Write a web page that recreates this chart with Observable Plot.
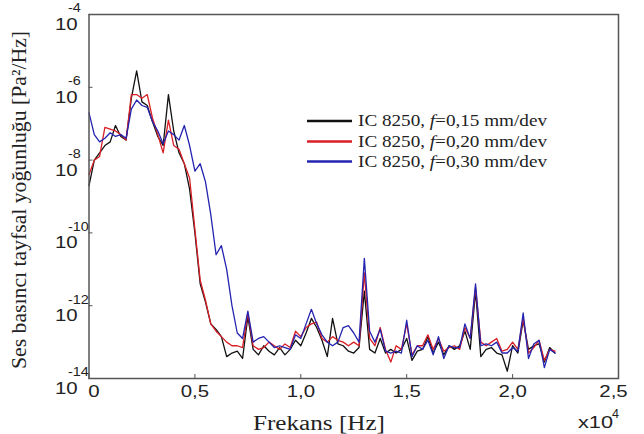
<!DOCTYPE html>
<html><head><meta charset="utf-8">
<script src="https://cdn.jsdelivr.net/npm/d3@7"></script>
<script src="https://cdn.jsdelivr.net/npm/@observablehq/plot@0.6"></script>
<style>body{margin:0;background:#fff}</style>
</head><body><div id="chart"></div>
<script>
// Frequency sampling step (Hz); series values are log10 of PSD [Pa^2/Hz]
const freqStep = 250;
const logBlack = [-8.7,-8.0,-7.8,-7.6,-7.5,-7.05,-7.35,-7.45,-6.3,-5.55,-6.4,-6.5,-6.95,-7.35,-7.6,-6.2,-7.2,-7.8,-8.1,-8.8,-10.0,-11.4,-11.9,-12.5,-12.65,-12.85,-13.4,-13.3,-13.25,-13.45,-12.3,-13.2,-13.35,-13.1,-13.25,-13.35,-13.15,-13.35,-13.2,-12.95,-13.1,-12.75,-12.35,-12.6,-12.95,-13.4,-12.35,-13.05,-13.1,-13.25,-13.3,-13.15,-11.6,-13.2,-13.3,-12.9,-13.3,-13.2,-13.3,-13.2,-12.9,-13.5,-13.25,-13.2,-12.85,-13.3,-13.0,-13.35,-13.1,-13.2,-13.1,-12.7,-13.2,-11.6,-13.4,-13.2,-13.15,-13.3,-13.35,-13.8,-13.1,-13.3,-12.4,-13.2,-13.1,-13.05,-13.55,-13.15,-13.3];
const logRed = [-8.4,-8.0,-7.9,-7.1,-7.15,-7.2,-7.3,-7.45,-6.2,-6.2,-6.3,-6.2,-6.85,-7.3,-7.8,-6.9,-7.6,-7.7,-8.1,-8.5,-9.9,-11.3,-11.85,-12.5,-12.7,-12.85,-13.0,-13.1,-13.1,-13.15,-12.2,-13.1,-13.2,-13.15,-13.0,-13.1,-13.2,-13.05,-13.15,-12.7,-12.85,-12.6,-12.5,-12.45,-12.9,-13.0,-12.85,-12.95,-13.0,-13.1,-13.0,-13.1,-11.1,-12.9,-13.1,-12.6,-13.2,-13.55,-13.1,-13.2,-12.5,-13.35,-13.1,-13.1,-12.8,-13.2,-12.9,-13.25,-13.15,-13.1,-13.2,-12.6,-12.9,-11.5,-13.0,-13.1,-13.0,-12.9,-13.25,-13.2,-13.0,-13.2,-12.35,-13.3,-13.15,-12.95,-13.5,-13.2,-13.25];
const logBlue = [-6.7,-7.3,-7.5,-7.4,-7.25,-7.35,-7.3,-7.4,-6.6,-6.35,-6.5,-6.55,-6.95,-7.2,-7.55,-7.2,-7.3,-7.45,-7.05,-7.6,-8.3,-8.1,-8.6,-9.5,-10.6,-10.35,-11.0,-12.0,-12.75,-12.9,-12.15,-13.0,-12.9,-12.85,-13.0,-13.15,-13.1,-13.15,-13.2,-12.8,-12.9,-12.5,-12.1,-12.5,-12.8,-13.0,-13.1,-13.0,-12.6,-12.55,-12.75,-13.0,-10.7,-12.7,-13.0,-12.65,-13.25,-13.3,-13.25,-13.3,-12.4,-13.4,-13.1,-13.2,-12.95,-13.35,-12.85,-13.45,-13.1,-13.15,-13.15,-12.5,-12.9,-11.4,-13.1,-13.05,-13.1,-13.0,-13.3,-13.3,-13.15,-13.25,-12.2,-13.45,-13.05,-12.95,-13.7,-13.2,-13.3];
const seriesFeeds = ["0,15", "0,20", "0,30"];
const seriesColors = ["#111111", "#d91f26", "#2424b0"];
const xTicks = [0, 5000, 10000, 15000, 20000, 25000];
const xTickLabels = ["0", "0,5", "1,0", "1,5", "2,0", "2,5"];
const yTickExps = [-14, -12, -10, -8, -6, -4];

const toRows = arr => arr.map((e, i) => ({f: i * freqStep, v: Math.pow(10, e)}));
const rowsK = toRows(logBlack), rowsR = toRows(logRed), rowsB = toRows(logBlue);

const sans = "Liberation Sans, Arial, sans-serif";
const serif = "Liberation Serif, Times New Roman, serif";

const svg = Plot.plot({
  width: 644, height: 434,
  marginLeft: 88.5, marginRight: 26, marginTop: 14, marginBottom: 56,
  x: {domain: [0, 25000], axis: null},
  y: {type: "log", domain: [1e-14, 1e-4], axis: null},
  style: {background: "#fff"},
  marks: [
    Plot.line(rowsK, {x: "f", y: "v", stroke: seriesColors[0], strokeWidth: 1.3}),
    Plot.line(rowsR, {x: "f", y: "v", stroke: seriesColors[1], strokeWidth: 1.3}),
    Plot.line(rowsB, {x: "f", y: "v", stroke: seriesColors[2], strokeWidth: 1.3}),
    Plot.axisX({ticks: xTicks, tickSize: -4, tickFormat: () => "", label: null, stroke: "#555"}),
    Plot.axisY({ticks: yTickExps.map(e => Math.pow(10, e)), tickSize: -4, tickFormat: () => "", label: null, stroke: "#555"}),
    Plot.frame({stroke: "#555", strokeWidth: 1.5}),
    Plot.text(xTicks, {x: d => d, filter: (d, i) => i > 0 && i < 5, text: d => xTickLabels[xTicks.indexOf(d)], frameAnchor: "bottom", lineAnchor: "middle", dy: 13, fontSize: 17, fontFamily: sans, fill: "#222", className: "stretch"}),
    Plot.text(xTicks, {x: d => d, filter: (d, i) => i === 0, text: d => xTickLabels[xTicks.indexOf(d)], frameAnchor: "bottom", lineAnchor: "middle", dy: 13, dx: 5, fontSize: 17, fontFamily: sans, fill: "#222", className: "stretch"}),
    Plot.text(xTicks, {x: d => d, filter: (d, i) => i === 5, text: d => xTickLabels[xTicks.indexOf(d)], frameAnchor: "bottom", lineAnchor: "middle", dy: 13, dx: -5, fontSize: 17, fontFamily: sans, fill: "#222", className: "stretch"}),
    Plot.text(yTickExps, {y: e => Math.pow(10, e), text: () => "10", frameAnchor: "left", textAnchor: "start", lineAnchor: "middle", dx: -34, dy: 10, fontSize: 17, fontFamily: sans, fill: "#222", className: "stretch"}),
    Plot.text(yTickExps, {y: e => Math.pow(10, e), text: e => String(e), frameAnchor: "left", textAnchor: "start", lineAnchor: "middle", dx: -21, dy: -6, fontSize: 12, fontFamily: sans, fill: "#222", className: "stretch"})
  ]
});

document.getElementById("chart").append(svg);
const sel = d3.select(svg);

// horizontal stretch of tick labels, as in the reference image
svg.querySelectorAll(".stretch text").forEach(t => {
  const L = t.getComputedTextLength();
  t.setAttribute("textLength", L * 1.2);
  t.setAttribute("lengthAdjust", "spacingAndGlyphs");
});

// axis titles
sel.append("text").attr("x", 319).attr("y", 430).attr("text-anchor", "middle")
  .attr("font-family", serif).attr("font-size", 20).attr("fill", "#222")
  .attr("textLength", 132).attr("lengthAdjust", "spacingAndGlyphs")
  .text("Frekans [Hz]");
const xe = sel.append("g").attr("font-family", sans).attr("fill", "#222").attr("text-anchor", "start");
xe.append("text").attr("x", 578).attr("y", 428).attr("font-size", 17)
  .attr("textLength", 35).attr("lengthAdjust", "spacingAndGlyphs").text("x10");
xe.append("text").attr("x", 612).attr("y", 418).attr("font-size", 12)
  .attr("textLength", 7).attr("lengthAdjust", "spacingAndGlyphs").text("4");

sel.append("text").attr("transform", "translate(26,200) rotate(-90)").attr("text-anchor", "middle")
  .attr("font-family", serif).attr("font-size", 22).attr("fill", "#222")
  .attr("textLength", 338).attr("lengthAdjust", "spacingAndGlyphs")
  .text("Ses basıncı tayfsal yoğunluğu [Pa²/Hz]");

// legend
const lg = sel.append("g").attr("text-anchor", "start");
const legendY = [121, 141.5, 161.5];
seriesFeeds.forEach((feed, i) => {
  lg.append("line").attr("x1", 307).attr("x2", 352).attr("y1", legendY[i]).attr("y2", legendY[i])
    .attr("stroke", seriesColors[i]).attr("stroke-width", 2.5);
  const t = lg.append("text").attr("x", 358).attr("y", legendY[i] + 5)
    .attr("font-family", serif).attr("font-size", 16).attr("fill", "#222")
    .attr("textLength", 189).attr("lengthAdjust", "spacingAndGlyphs");
  t.append("tspan").text("IC 8250, ");
  t.append("tspan").attr("font-style", "italic").text("f");
  t.append("tspan").text("=" + feed + " mm/dev");
});
</script>
</body></html>
